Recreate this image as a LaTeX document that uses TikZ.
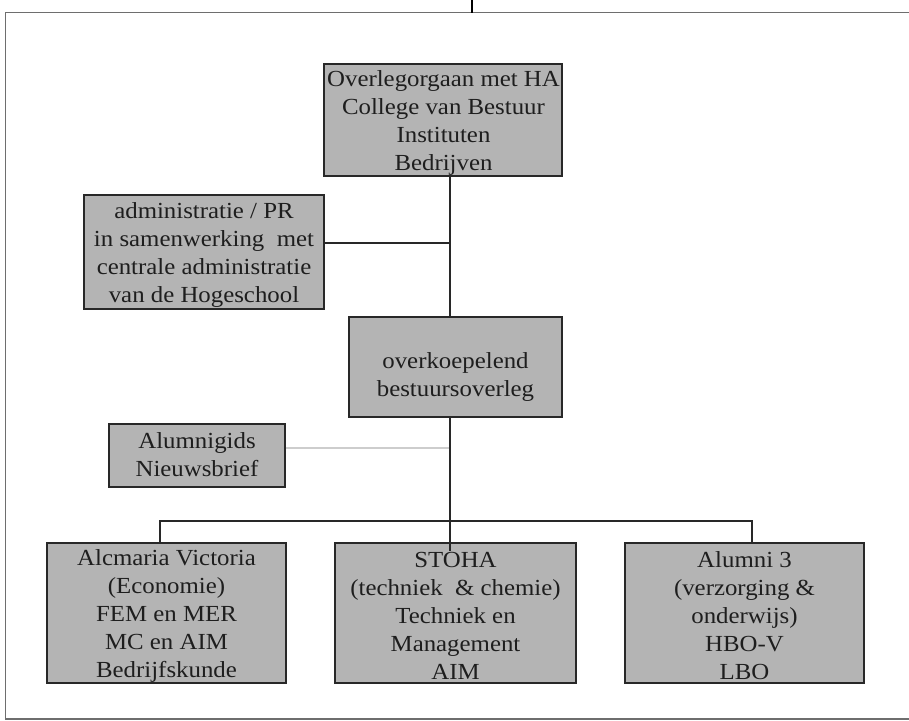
\documentclass[tikz,border=0pt]{standalone}
\usepackage{fontspec}
\setmainfont{Liberation Serif}[FakeStretch=1.08]
\definecolor{boxfill}{RGB}{180,180,180}
\definecolor{boxline}{RGB}{40,40,40}
\definecolor{txtcol}{RGB}{30,30,30}
\definecolor{framecol}{RGB}{110,110,110}
\definecolor{paleline}{RGB}{205,205,205}
\tikzset{
  orgbox/.style={draw=boxline, fill=boxfill, line width=1.5pt, inner sep=0pt},
  orgtext/.style={align=center, text=txtcol, inner sep=0pt, font=\fontsize{23}{28}\selectfont},
  link/.style={draw=boxline, line width=1.4pt},
  palelink/.style={draw=paleline, line width=2pt},
}
\begin{document}
\begin{tikzpicture}[x=1pt,y=-1pt]
\useasboundingbox (0,0) rectangle (909,720);
% outer frame
\draw[framecol, line width=1.6pt] (909,12.5) -- (5.5,12.5) -- (5.5,719) -- (909,719);
\coordinate (tickb) at (472,12.5);
\coordinate (tickt) at (472,0);
\draw[black, line width=1.2pt] (tickt) -- (tickb);

% boxes
\node[orgbox, minimum width=238pt, minimum height=112pt] (b1) at (443,120) {};
\node[orgbox, minimum width=240pt, minimum height=114pt] (b2) at (204,252) {};
\node[orgbox, minimum width=213pt, minimum height=100pt] (b3) at (455.5,367) {};
\node[orgbox, minimum width=176pt, minimum height=63pt] (b4) at (197,455.5) {};
\node[orgbox, minimum width=239pt, minimum height=140pt] (b5) at (166.5,613) {};
\node[orgbox, minimum width=241pt, minimum height=140pt] (b6) at (455.5,613) {};
\node[orgbox, minimum width=239pt, minimum height=140pt] (b7) at (744.5,613) {};

% junction coordinates
\coordinate (tx) at (450,0);
\coordinate (ja) at (450,243);
\coordinate (jg) at (450,448);
\coordinate (d5) at (160,521);
\coordinate (d7) at (752,521);

% connectors
\draw[link] (b1.south -| tx) -- (b3.north -| tx);
\draw[link] (ja -| b2.east) -- (ja);
\draw[palelink] (jg -| b4.east) -- (jg);
\draw[link] (b3.south -| tx) -- ([yshift=-9pt]b6.north -| tx);
\draw[link] (d5 |- b5.north) -- (d5) -- (d7) -- (d7 |- b7.north);

% texts
\node[orgtext] (t1) at (443.5,122.5) {Overlegorgaan met HA\\College van Bestuur\\Instituten\\Bedrijven};
\node[orgtext] (t2) at (204,255) {administratie / PR\\in samenwerking\ \ met\\centrale administratie\\van de Hogeschool};
\node[orgtext] (t3) at (455.5,376.5) {overkoepelend\\bestuursoverleg};
\node[orgtext] (t4) at (197,455) {Alumnigids\\Nieuwsbrief};
\node[orgtext] (t5) at (166.5,616) {Alcmaria Victoria\\(Economie)\\FEM en MER\\MC en AIM\\Bedrijfskunde};
\node[orgtext] (t6) at (455.5,616) {STOHA\\(techniek\ \ \& chemie)\\Techniek en\\Management\\AIM};
\node[orgtext] (t7) at (744.5,616) {Alumni 3\\(verzorging \&\\onderwijs)\\HBO-V\\LBO};
\end{tikzpicture}
\end{document}
